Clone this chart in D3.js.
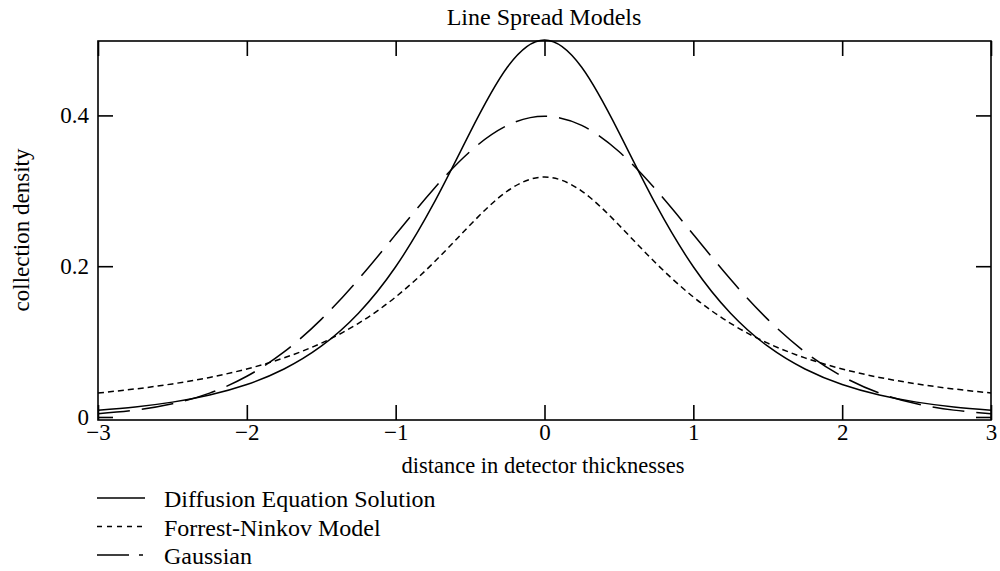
<!DOCTYPE html>
<html><head><meta charset="utf-8">
<script src="https://cdn.jsdelivr.net/npm/d3@7/dist/d3.min.js"></script>
<style>body{margin:0;background:#fff}svg{display:block}</style>
</head><body><svg id="c" width="1000" height="571"></svg>
<script>
const xs = [-3,-2.75,-2.5,-2.25,-2,-1.75,-1.5,-1.25,-1,-0.75,-0.5,-0.25,0,0.25,0.5,0.75,1,1.25,1.5,1.75,2,2.25,2.5,2.75,3];
const diffusion = [0.0090,0.0133,0.0197,0.0292,0.0431,0.0637,0.0939,0.1377,0.1993,0.2812,0.3775,0.4638,0.5,0.4638,0.3775,0.2812,0.1993,0.1377,0.0939,0.0637,0.0431,0.0292,0.0197,0.0133,0.0090];
const forrest = [0.0318,0.0372,0.0439,0.0525,0.0637,0.0784,0.0979,0.1242,0.1592,0.2037,0.2546,0.2996,0.3183,0.2996,0.2546,0.2037,0.1592,0.1242,0.0979,0.0784,0.0637,0.0525,0.0439,0.0372,0.0318];
const gaussian = [0.0044,0.0091,0.0175,0.0317,0.0540,0.0863,0.1295,0.1826,0.2420,0.3011,0.3521,0.3867,0.3989,0.3867,0.3521,0.3011,0.2420,0.1826,0.1295,0.0863,0.0540,0.0317,0.0175,0.0091,0.0044];
const xTicks = [-3,-2,-1,0,1,2,3];
const yTicks = [0,0.2,0.4];
const seriesNames = ["Diffusion Equation Solution","Forrest-Ninkov Model","Gaussian"];
const title = "Line Spread Models";
const xLabel = "distance in detector thicknesses";
const yLabel = "collection density";

const FONT = "'Liberation Serif', 'Times New Roman', Times, serif";
const svg = d3.select("#c");
const L=98,R=991,T=41,B=420;
const x = d3.scaleLinear().domain([-3,3]).range([L,R]);
const y = d3.scaleLinear().domain([-0.004,0.4987]).range([B,T]);

const g = svg.append("g");
g.append("rect").attr("x",L).attr("y",T).attr("width",R-L).attr("height",B-T)
 .attr("fill","none").attr("stroke","#000").attr("stroke-width",1.6);

const tl=15;
const fmtX = d => d<0 ? "\u2212"+Math.abs(d) : String(d);
const bx = g.append("g").attr("transform",`translate(0,${B})`).call(d3.axisBottom(x).tickValues(xTicks).tickSizeInner(-tl).tickSizeOuter(0).tickPadding(4).tickFormat(fmtX));
const tx = g.append("g").attr("transform",`translate(0,${T})`).call(d3.axisTop(x).tickValues(xTicks).tickSizeInner(-tl).tickSizeOuter(0).tickFormat(""));
const ly = g.append("g").attr("transform",`translate(${L},0)`).call(d3.axisLeft(y).tickValues(yTicks).tickSizeInner(-tl).tickSizeOuter(0).tickPadding(9).tickFormat(d=>d===0?"0":d3.format(".1f")(d)));
const ry = g.append("g").attr("transform",`translate(${R},0)`).call(d3.axisRight(y).tickValues(yTicks).tickSizeInner(-tl).tickSizeOuter(0).tickFormat(""));
[bx,tx,ly,ry].forEach(a=>{
  a.select(".domain").remove();
  a.selectAll("line").attr("stroke","#000").attr("stroke-width",1.6);
  a.selectAll("text").style("font-family",FONT).style("font-size","23px").attr("fill","#000");
});

const styles = ["none","6,4","32,12"];
const data = [diffusion,forrest,gaussian];
const line = d3.line().x((d,i)=>x(xs[i])).y(d=>y(d)).curve(d3.curveNatural);
data.forEach((s,k)=>{
  g.append("path").datum(s).attr("d",line).attr("fill","none").attr("stroke","#000")
   .attr("stroke-width",1.5).attr("stroke-dasharray",styles[k]);
});

function txt(sel){ return sel.style("font-family",FONT).attr("fill","#000"); }
txt(svg.append("text")).attr("x",544).attr("y",25).attr("text-anchor","middle").style("font-size","24px").text(title);
txt(svg.append("text")).attr("x",543).attr("y",473).attr("text-anchor","middle").style("font-size","22.5px").text(xLabel);
txt(svg.append("text")).attr("transform","translate(29,230) rotate(-90)").attr("text-anchor","middle").style("font-size","23px").text(yLabel);

const legStyles = ["none","5,5","32,10,4,100"];
seriesNames.forEach((n,i)=>{
  const yy = 498 + i*28.5;
  svg.append("line").attr("x1",97).attr("x2",145).attr("y1",yy).attr("y2",yy)
    .attr("stroke","#000").attr("stroke-width",1.5).attr("stroke-dasharray",legStyles[i]);
  txt(svg.append("text")).attr("x",164).attr("y",yy+9).style("font-size","24px").text(n);
});
</script></body></html>
